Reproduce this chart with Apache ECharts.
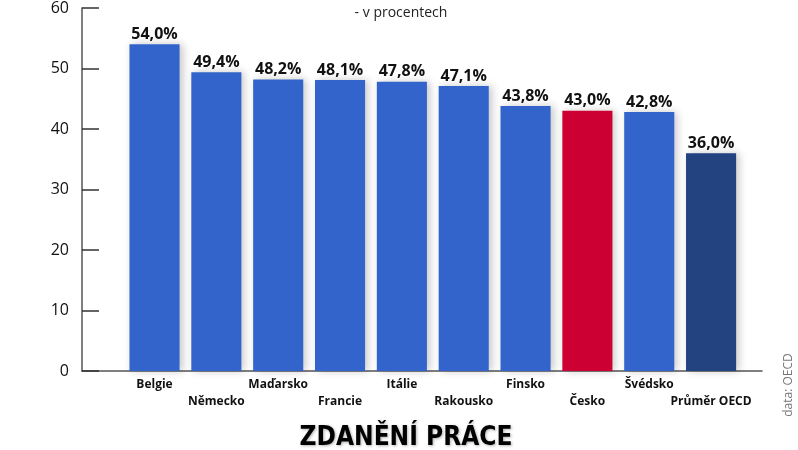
<!DOCTYPE html>
<html>
<head>
<meta charset="utf-8">
<script src="https://cdn.jsdelivr.net/npm/echarts@6/dist/echarts.min.js"></script>
<style>
  html, body { margin: 0; padding: 0; background: #fff; }
  #chart { width: 798px; height: 450px; }
</style>
</head>
<body>
<div id="chart"></div>
<script>
// zdanění práce - v procentech (data: OECD)
var countries = ['Belgie', 'Německo', 'Maďarsko', 'Francie', 'Itálie', 'Rakousko', 'Finsko', 'Česko', 'Švédsko', 'Průměr OECD'];
var taxRates = [54.0, 49.4, 48.2, 48.1, 47.8, 47.1, 43.8, 43.0, 42.8, 36.0];
var barColors = ['#3264cc', '#3264cc', '#3264cc', '#3264cc', '#3264cc', '#3264cc', '#3264cc', '#cc0033', '#3264cc', '#224280'];
var yTicks = [0, 10, 20, 30, 40, 50, 60];

var myChart = echarts.init(document.getElementById('chart'));

var option = {
    animation: false,
    textStyle: { fontFamily: '"Open Sans", "Noto Sans", sans-serif' },
    title: [{
        text: '- v procentech',
        left: 396, top: 1, textAlign: 'center',
        textStyle: { fontSize: 14, fontWeight: 'normal', color: '#222' }
    }, {
        text: 'ZDANĚNÍ PRÁCE',
        left: 401, top: 420, textAlign: 'center',
        textStyle: {
            fontSize: 26, fontWeight: 900, color: '#000',
            fontFamily: '"Liberation Sans Narrow", "DejaVu Sans Condensed", sans-serif',
            textShadowColor: 'rgba(0,0,0,0.3)', textShadowBlur: 3, textShadowOffsetX: 1, textShadowOffsetY: 1
        }
    }],
    graphic: [{
        type: 'text',
        x: 789, y: 385,
        rotation: Math.PI / 2,
        style: {
            text: 'data: OECD', fill: '#777', fontSize: 12,
            fontFamily: '"Open Sans", sans-serif',
            textAlign: 'center', textVerticalAlign: 'middle'
        }
    }],
    grid: [
        { left: 123.6, right: 56, top: 7, bottom: 79 },
        { left: 82, right: 36, top: 7, bottom: 79 }
    ],
    xAxis: [{
        type: 'category',
        gridIndex: 0,
        data: countries,
        axisLine: { show: false },
        axisTick: { show: false },
        axisLabel: {
            interval: 0,
            margin: 5,
            fontSize: 12, fontWeight: 'bold', color: '#111', lineHeight: 17,
            formatter: function (v, i) { return i % 2 ? '\n' + v : v; }
        }
    }, {
        type: 'value',
        gridIndex: 1,
        axisLine: { show: true, lineStyle: { color: '#555', width: 1.5 } },
        axisTick: { show: false },
        axisLabel: { show: false },
        splitLine: { show: false }
    }],
    yAxis: [{
        type: 'value',
        gridIndex: 0,
        min: yTicks[0], max: yTicks[yTicks.length - 1], interval: 10,
        offset: 41.6,
        axisLine: { show: true, lineStyle: { color: '#555', width: 1.5 } },
        axisTick: { show: true, inside: true, length: 17, lineStyle: { color: '#333', width: 1.5 } },
        axisLabel: { margin: 13, fontSize: 16, color: '#111' },
        splitLine: { show: false }
    }, {
        type: 'value',
        gridIndex: 1,
        show: false
    }],
    series: [{
        type: 'bar',
        xAxisIndex: 0,
        yAxisIndex: 0,
        barCategoryGap: '19%',
        data: taxRates.map(function (v, i) {
            return { value: v, itemStyle: { color: barColors[i] } };
        }),
        itemStyle: {
            shadowColor: 'rgba(0,0,0,0.22)', shadowBlur: 8, shadowOffsetX: 3
        },
        label: {
            show: true, position: 'top', distance: 2,
            fontSize: 16, fontWeight: 'bold', color: '#111',
            formatter: function (p) { return p.value.toFixed(1).replace('.', ',') + '%'; }
        }
    }]
};

myChart.setOption(option);
</script>
</body>
</html>
